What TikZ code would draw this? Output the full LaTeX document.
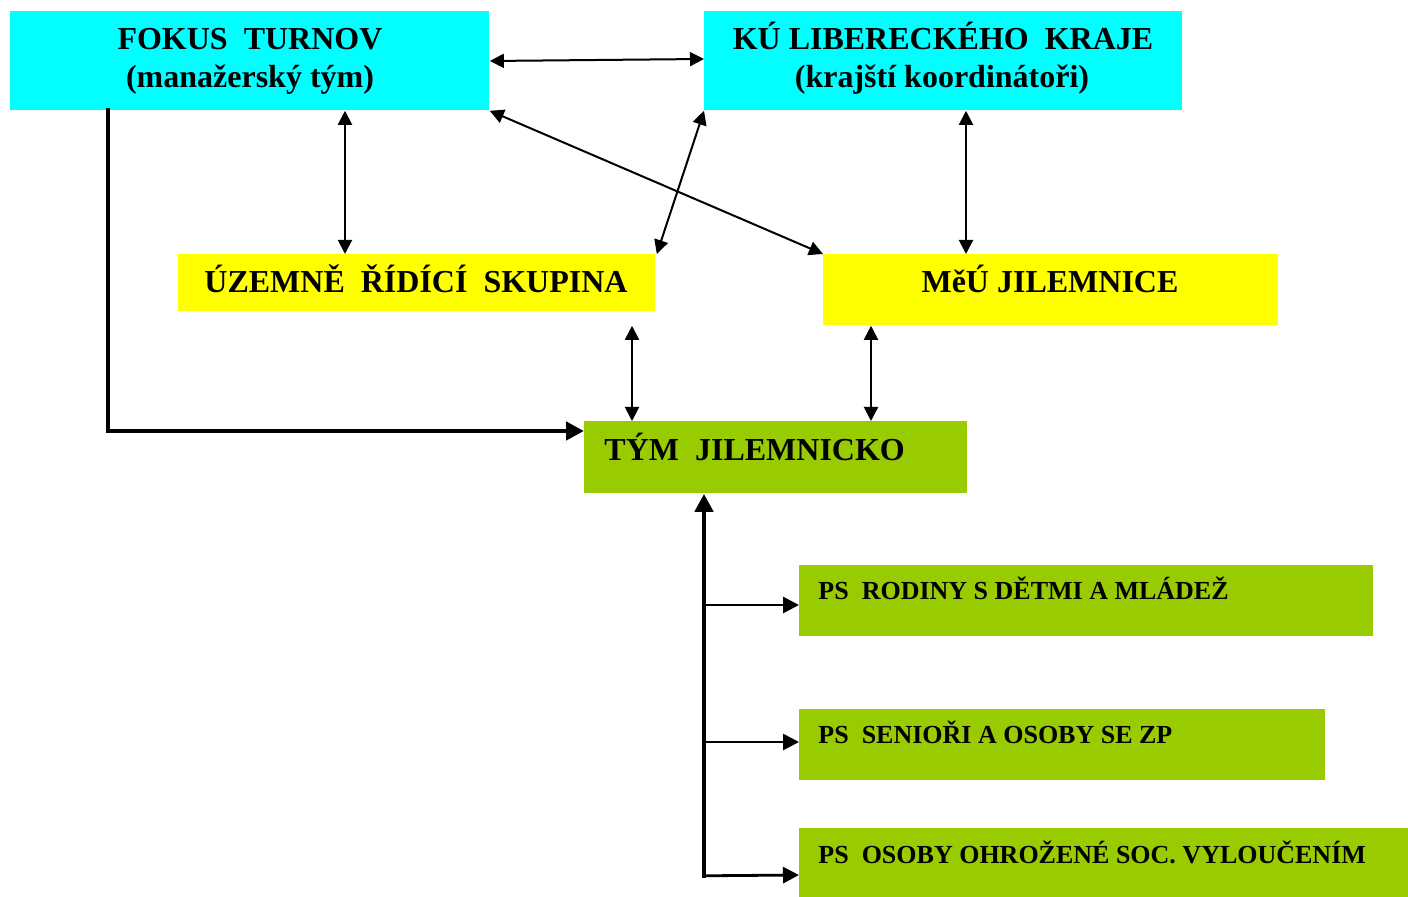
\documentclass[tikz,border=0pt]{standalone}
\usepackage{fontspec}
\setmainfont{Liberation Serif}
\usetikzlibrary{arrows.meta,calc}
\definecolor{boxcyan}{HTML}{00FFFF}
\definecolor{boxyellow}{HTML}{FFFF00}
\definecolor{boxgreen}{HTML}{99CC00}
\tikzset{
  box/.style={draw=none,inner sep=0pt,anchor=north west},
  bigtxt/.style={font=\fontsize{16}{19}\selectfont\bfseries,inner sep=0pt,anchor=base},
  smalltxt/.style={font=\fontsize{13}{15}\selectfont\bfseries,inner sep=0pt,anchor=base west},
  thinlink/.style={line width=1pt,{Triangle[length=7pt,width=7pt]}-{Triangle[length=7pt,width=7pt]}},
  thicklink/.style={line width=2.4pt,-{Triangle[length=9pt,width=9pt]}},
  branchlink/.style={line width=1.4pt,-{Triangle[length=8pt,width=8pt]}}
}
\begin{document}
\begin{tikzpicture}[x=0.5pt,y=-0.5pt]
\useasboundingbox (0,0) rectangle (1408,897);
% boxes
\node[box,fill=boxcyan,minimum width=239.5pt,minimum height=49.5pt] (fokus) at (10,11) {};
\node[box,fill=boxcyan,minimum width=239pt,minimum height=49.5pt] (ku) at (704,11) {};
\node[box,fill=boxyellow,minimum width=238.5pt,minimum height=28.5pt] (uzemne) at (178,254) {};
\node[box,fill=boxyellow,minimum width=227.5pt,minimum height=35.5pt] (meu) at (823,254) {};
\node[box,fill=boxgreen,minimum width=191.5pt,minimum height=36pt] (tym) at (584,421) {};
\node[box,fill=boxgreen,minimum width=287pt,minimum height=35.5pt] (ps1) at (799,565) {};
\node[box,fill=boxgreen,minimum width=263pt,minimum height=35.5pt] (ps2) at (799,709) {};
\node[box,fill=boxgreen,minimum width=304.5pt,minimum height=34.5pt] (ps3) at (799,828) {};
% texts
\node[bigtxt] (fokusA) at (250,50) {FOKUS\ \ TURNOV};
\node[bigtxt] (fokusB) at (250,88) {(manažerský tým)};
\node[bigtxt] (kuA) at (943,50) {KÚ LIBERECKÉHO\ \ KRAJE};
\node[bigtxt] (kuB) at (942,88) {(krajští koordinátoři)};
\node[bigtxt] (uzemneT) at (416,293) {ÚZEMNĚ\ \ ŘÍDÍCÍ\ \ SKUPINA};
\node[bigtxt] (meuT) at (1050,293) {MěÚ JILEMNICE};
\node[bigtxt,anchor=base west] (tymT) at (604,461) {TÝM\ \ JILEMNICKO};
\node[smalltxt] (ps1T) at (818,600) {PS\ \ RODINY S DĚTMI A MLÁDEŽ};
\node[smalltxt] (ps2T) at (818,743) {PS\ \ SENIOŘI A OSOBY SE ZP};
\node[smalltxt] (ps3T) at (818,863) {PS\ \ OSOBY OHROŽENÉ SOC. VYLOUČENÍM};
% thin double arrows
\draw[thinlink] ($(fokus.north east)+(0,50)$) -- ($(ku.north west)+(0,48)$);
\draw[thinlink] ($(fokus.south west)+(335,0)$) -- ($(uzemne.north west)+(167,0)$);
\draw[thinlink] (fokus.south east) -- (meu.north west);
\draw[thinlink] (ku.south west) -- ($(uzemne.north east)+(1,0)$);
\draw[thinlink] ($(ku.south west)+(262,0)$) -- ($(meu.north west)+(143,0)$);
\draw[thinlink] ($(uzemne.south west)+(454,14)$) -- ($(tym.north west)+(48,0)$);
\draw[thinlink] ($(meu.south west)+(48,0)$) -- ($(tym.north west)+(287,0)$);
% thick from fokus to tym
\draw[thicklink,line cap=rect] ($(fokus.south west)+(98,0)$) |- ($(tym.north west)+(0,10)$);
% trunk and branches
\coordinate (corner) at ($(tym.south west)+(120,382)$);
\coordinate (p1) at ($(ps1.north west)+(0,40)$);
\coordinate (p2) at ($(ps2.north west)+(0,33)$);
\coordinate (p3) at ($(ps3.north west)+(0,47)$);
\draw[thicklink,line cap=rect] (corner) -- ($(tym.south west)+(120,0)$);
\draw[branchlink] (corner |- p1) -- (p1);
\draw[branchlink] (corner |- p2) -- (p2);
\draw[branchlink] (corner) -- (p3);
\end{tikzpicture}
\end{document}
